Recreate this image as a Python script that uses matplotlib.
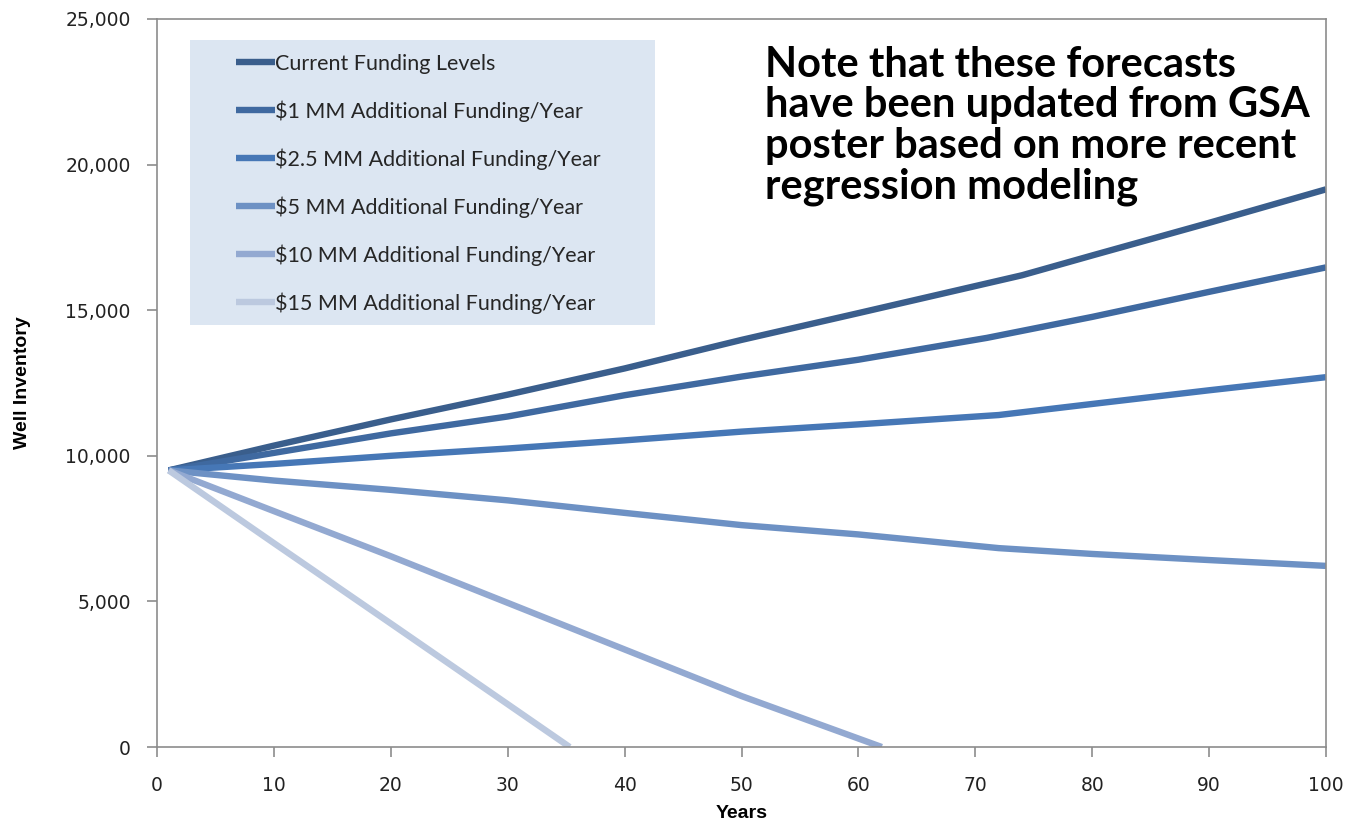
import matplotlib
matplotlib.use("Agg")
import matplotlib.pyplot as plt
from matplotlib.patches import Rectangle
from matplotlib.ticker import FuncFormatter

# forecast series (years, well inventory)
years_current = [1, 10, 20, 30, 40, 50, 60, 74, 80, 90, 100]
wells_current = [9500, 10350, 11250, 12100, 13000, 13980, 14900, 16200, 16880, 18000, 19150]

years_1mm = [1, 10, 20, 30, 40, 50, 60, 71, 80, 90, 100]
wells_1mm = [9500, 10100, 10770, 11350, 12080, 12720, 13300, 14050, 14770, 15630, 16470]

years_2_5mm = [1, 10, 20, 30, 40, 50, 60, 72, 80, 90, 100]
wells_2_5mm = [9500, 9720, 10000, 10250, 10530, 10830, 11080, 11400, 11780, 12250, 12700]

years_5mm = [1, 10, 20, 30, 40, 50, 60, 72, 80, 90, 100]
wells_5mm = [9500, 9150, 8830, 8470, 8040, 7620, 7300, 6830, 6630, 6420, 6220]

years_10mm = [1, 10, 20, 30, 40, 50, 62]
wells_10mm = [9500, 8100, 6550, 4950, 3350, 1750, 0]

years_15mm = [1, 10, 20, 30, 35.3]
wells_15mm = [9500, 7000, 4240, 1470, 0]

labels = ["Current Funding Levels",
          "$1 MM Additional Funding/Year",
          "$2.5 MM Additional Funding/Year",
          "$5 MM Additional Funding/Year",
          "$10 MM Additional Funding/Year",
          "$15 MM Additional Funding/Year"]
colors = ["#3A5E8C", "#3F69A0", "#4677B6", "#6D91C4", "#93A9D1", "#BCC9DF"]

x_ticks = [0, 10, 20, 30, 40, 50, 60, 70, 80, 90, 100]
y_ticks = [0, 5000, 10000, 15000, 20000, 25000]

note = ("Note that these forecasts\n"
        "have been updated from GSA\n"
        "poster based on more recent\n"
        "regression modeling")

series = [(years_current, wells_current), (years_1mm, wells_1mm),
          (years_2_5mm, wells_2_5mm), (years_5mm, wells_5mm),
          (years_10mm, wells_10mm), (years_15mm, wells_15mm)]

fig = plt.figure(figsize=(13.48, 8.21), dpi=100)
ax = fig.add_axes([0.1165, 0.0901, 0.8672, 0.8868])

handles = []
for (xs, ys), lab, col in zip(series, labels, colors):
    h, = ax.plot(xs, ys, color=col, lw=4.6, solid_capstyle="butt",
                 solid_joinstyle="round", label=lab)
    handles.append(h)

ax.set_xlim(0, 100)
ax.set_ylim(0, 25000)
ax.set_xticks(x_ticks)
ax.set_yticks(y_ticks)
ax.yaxis.set_major_formatter(FuncFormatter(lambda v, p: f"{int(v):,}"))

for s in ax.spines.values():
    s.set_color("#8C8C8C")
    s.set_linewidth(1.2)
ax.tick_params(axis="both", direction="out", color="#8C8C8C", width=1.2,
               length=7, labelsize=13.5, labelcolor="#222222")
ax.tick_params(axis="x", pad=14)
ax.tick_params(axis="y", pad=12)

lab_font = ["Liberation Sans Narrow", "Liberation Sans", "DejaVu Sans"]
ax.set_ylabel("Well Inventory", family=lab_font, fontweight="bold",
              fontsize=14, labelpad=25)
ax.set_xlabel("Years", family=lab_font, fontweight="bold", fontsize=14,
              labelpad=7)

# legend background panel
ax.add_patch(Rectangle((0.0282, 0.580), 0.3977, 0.391, transform=ax.transAxes,
                       facecolor="#DCE6F2", edgecolor="none", zorder=3))
leg = ax.legend(handles=handles, loc="upper left",
                bbox_to_anchor=(0.060, 0.964), frameon=False,
                prop={"family": "Lato", "size": 15.5}, handlelength=1.8,
                handletextpad=0.0, labelspacing=1.23, borderaxespad=0)
leg.set_zorder(4)
for t in leg.get_texts():
    t.set_color("#262626")

fig.text(0.5675, 0.944, note, family="Lato", fontweight="bold",
         fontsize=30, va="top", ha="left", linespacing=1.08)

fig.savefig("out.png", dpi=100)
